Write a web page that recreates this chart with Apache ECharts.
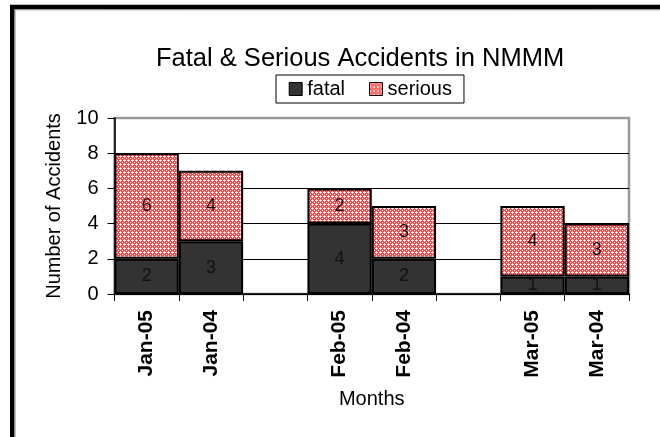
<!DOCTYPE html>
<html>
<head>
<meta charset="utf-8">
<script src="https://cdn.jsdelivr.net/npm/echarts@6/dist/echarts.min.js"></script>
<style>
html,body{margin:0;padding:0;background:#fff;}
#chart{width:660px;height:437px;}
</style>
</head>
<body>
<div id="chart"></div>
<script>
// ---- data ----
var categories = ['Jan-05', 'Jan-04', ' ', 'Feb-05', 'Feb-04', '  ', 'Mar-05', 'Mar-04'];
var fatalValues = [2, 3, null, 4, 2, null, 1, 1];
var seriousValues = [6, 4, null, 2, 3, null, 4, 3];
var yTicks = [0, 2, 4, 6, 8, 10];

// ---- red/white dotted pattern ----
function makePattern() {
  var c = document.createElement('canvas');
  c.width = 4; c.height = 4;
  var g = c.getContext('2d');
  g.fillStyle = '#ff4545';
  g.fillRect(0, 0, 4, 4);
  g.fillStyle = '#ffffff';
  g.fillRect(0, 0, 1, 1);
  g.fillRect(2, 2, 1, 1);
  g.fillStyle = '#ffdcdc';
  g.fillRect(1, 0, 1, 1);
  g.fillRect(3, 0, 1, 1);
  g.fillRect(0, 1, 1, 1);
  g.fillRect(0, 3, 1, 1);
  return c;
}
var pattern = { image: makePattern(), repeat: 'repeat' };

var FONT = '"Liberation Sans", Arial, sans-serif';
var chart = echarts.init(document.getElementById('chart'), null, { renderer: 'canvas' });

var labelStyle = {
  show: true,
  position: 'inside',
  color: '#111',
  fontFamily: FONT,
  fontSize: 18,
  formatter: function (p) { return p.value == null ? '' : String(p.value); }
};

chart.setOption({
  animation: false,
  backgroundColor: '#fff',
  textStyle: { fontFamily: FONT },
  graphic: [
    { type: 'rect', shape: { x: 12.25, y: 7, width: 800, height: 600 },
      style: { fill: null, stroke: '#000', lineWidth: 4.5 }, z: 100 },
    { type: 'rect', shape: { x: 15, y: 9.8, width: 800, height: 600 },
      style: { fill: null, stroke: '#888', lineWidth: 1 }, z: 100 }
  ],
  title: {
    text: 'Fatal & Serious Accidents in NMMM',
    left: 156, top: 45.5, padding: 0,
    textStyle: { fontFamily: FONT, fontSize: 25.5, fontWeight: 'normal', color: '#000' }
  },
  legend: {
    left: 276, top: 75,
    padding: [4, 12, 4, 12.7],
    borderColor: '#000', borderWidth: 1,
    itemWidth: 13, itemHeight: 13, itemGap: 24,
    icon: 'rect',
    itemStyle: { borderColor: '#000', borderWidth: 1 },
    textStyle: { fontFamily: FONT, fontSize: 20, color: '#000', lineHeight: 20 },
    data: ['fatal', 'serious']
  },
  grid: {
    left: 114.5, right: 31, top: 118, bottom: 143,
    show: true, borderColor: '#999', borderWidth: 2.5, backgroundColor: '#fff'
  },
  xAxis: {
    type: 'category',
    data: categories,
    boundaryGap: true,
    name: 'Months',
    nameLocation: 'middle',
    nameGap: 95,
    nameTextStyle: { fontFamily: FONT, fontSize: 20, color: '#000' },
    axisLine: { lineStyle: { color: '#000', width: 1.5 } },
    axisTick: { show: true, inside: false, length: 7, interval: 0, lineStyle: { color: '#000' } },
    axisLabel: { rotate: 90, margin: 16, interval: 0, fontFamily: FONT, fontSize: 21, fontWeight: 'bold', color: '#000' },
    splitLine: { show: false }
  },
  yAxis: {
    type: 'value',
    min: yTicks[0], max: yTicks[yTicks.length - 1], interval: 2,
    name: 'Number of Accidents',
    nameLocation: 'middle',
    nameGap: 50,
    nameRotate: 90,
    nameTextStyle: { fontFamily: FONT, fontSize: 20, color: '#000' },
    axisLine: { show: true, lineStyle: { color: '#000', width: 1.5 } },
    axisTick: { show: true, inside: false, length: 7, lineStyle: { color: '#000' } },
    axisLabel: { margin: 16, fontFamily: FONT, fontSize: 20, color: '#000' },
    splitLine: { show: true, lineStyle: { color: ['#000', '#000', '#000', '#000', '#000', '#999'], width: 1.2 } }
  },
  series: [
    {
      name: 'fatal', type: 'bar', stack: 'total',
      barCategoryGap: '0%',
      data: fatalValues,
      itemStyle: { color: '#333333', borderColor: '#000', borderWidth: 2 },
      label: labelStyle
    },
    {
      name: 'serious', type: 'bar', stack: 'total',
      barCategoryGap: '0%',
      data: seriousValues,
      itemStyle: { color: pattern, borderColor: '#000', borderWidth: 2 },
      label: labelStyle
    }
  ]
});
</script>
</body>
</html>
